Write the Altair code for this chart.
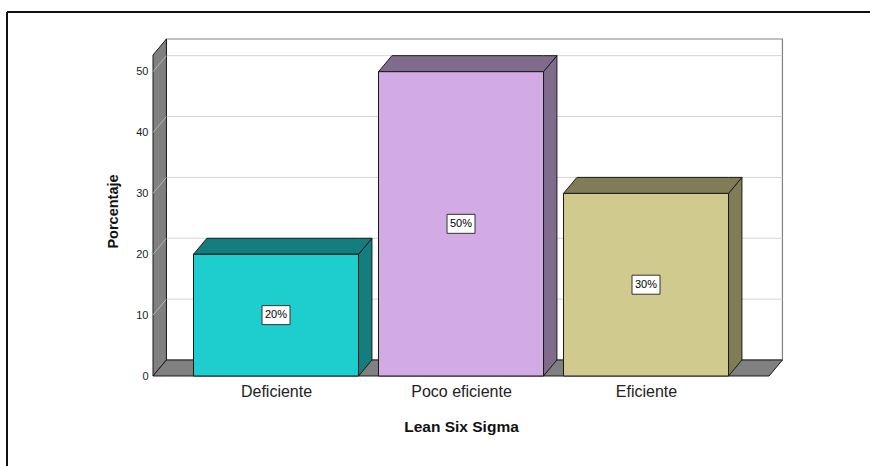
import json
import altair as alt
import pandas as pd

# ---- data ----
categories = ["Deficiente", "Poco eficiente", "Eficiente"]
values = [20, 50, 30]
labels = ["20%", "50%", "30%"]
front_colors = ["#1ECECE", "#D2AAE4", "#D0CA8F"]
side_colors = ["#147E7E", "#806B8D", "#807C56"]
y_ticks = [0, 10, 20, 30, 40, 50]

# ---- geometry (style constants, data units) ----
HALF = 0.446      # half bar width (category units)
DX = 0.0725       # depth offset x (category units)
DY = 2.63         # depth offset y (value units)
X_MIN, X_MAX = -0.665, 2.7405
X_FRONT_R = 2.665
Y_MAX = 55.37
Y_FRONT_TOP = Y_MAX - DY
WALL = "#808080"
EDGE = "#1a1a1a"

xs = alt.Scale(domain=[X_MIN, X_MAX], nice=False, zero=False)
ys = alt.Scale(domain=[0, Y_MAX], nice=False, zero=False)

cat_json = json.dumps(categories)
x_axis = alt.Axis(values=[0, 1, 2], labelExpr=f"{cat_json}[datum.value]",
                  title="Lean Six Sigma", domain=False, ticks=False, grid=False,
                  labelFontSize=16, labelColor="#222", labelFont="Liberation Sans",
                  labelPadding=7, labelFlush=False,
                  titleFontSize=15.5, titleFontWeight="bold", titleColor="#111",
                  titleFont="Liberation Sans", titleBaseline="alphabetic",
                  titleAlign="center", titleX=308, titleY=55)
y_axis = alt.Axis(values=y_ticks, title="Porcentaje", domain=False, ticks=False,
                  grid=False, labelFontSize=11, labelColor="#222",
                  labelFont="Liberation Sans", labelPadding=5,
                  titleFontSize=14.5, titleFontWeight="bold", titleColor="#111",
                  titleFont="Liberation Sans", titleX=-33, titleY=172,
                  titleBaseline="bottom")

def X(f):
    return alt.X(f, scale=xs, axis=x_axis)

def Y(f, **kw):
    return alt.Y(f, scale=ys, axis=y_axis, **kw)

# back wall
back = pd.DataFrame({"x": [X_MIN + DX], "x2": [X_FRONT_R + DX], "y": [DY], "y2": [Y_MAX]})
back_layer = alt.Chart(back).mark_rect(fill="white", stroke=WALL, strokeWidth=1.2).encode(
    x=X("x:Q"), x2="x2:Q", y=Y("y:Q"), y2="y2:Q")

# gridlines on back wall
grid = pd.DataFrame({"x": [X_MIN + DX] * 5, "x2": [X_FRONT_R + DX] * 5,
                     "y": [v + DY for v in y_ticks[1:]]})
grid_layer = alt.Chart(grid).mark_rule(color="#d4d4d4", strokeWidth=1).encode(
    x=X("x:Q"), x2="x2:Q", y=Y("y:Q"))

# polygons: left wall, floor, bar side/top faces
poly_layers = []
def poly(fill, pts):
    df = pd.DataFrame(pts, columns=["x", "y", "y2"])
    poly_layers.append(
        alt.Chart(df).mark_area(orient="vertical", fill=fill, stroke=EDGE,
                                strokeWidth=1, opacity=1, interpolate="linear").encode(
            x=X("x:Q"), y=Y("y:Q", stack=None), y2="y2:Q"))

poly(WALL, [(X_MIN, 0, Y_FRONT_TOP), (X_MIN + DX, DY, Y_MAX)])
poly(WALL, [(X_MIN, 0, 0), (X_MIN + DX, 0, DY),
            (X_FRONT_R, 0, DY), (X_FRONT_R + DX, DY, DY)])

# diagonal gridlines on left wall
wg = pd.DataFrame({"x": [X_MIN] * 5, "x2": [X_MIN + DX] * 5,
                   "y": y_ticks[1:], "y2": [v + DY for v in y_ticks[1:]]})
wall_grid = alt.Chart(wg).mark_rule(color="#b4b4b4", strokeWidth=1).encode(
    x=X("x:Q"), x2="x2:Q", y=Y("y:Q"), y2="y2:Q")

for i, (v, sc) in enumerate(zip(values, side_colors)):
    L, R = i - HALF, i + HALF
    poly(sc, [(R, 0, v), (R + DX, DY, v + DY)])
    poly(sc, [(L, v, v), (L + DX, v, v + DY), (R, v, v + DY), (R + DX, v + DY, v + DY)])

# front faces
front = pd.DataFrame({"cat": categories, "idx": range(3), "v": values, "fill": front_colors,
                      "label": labels})
front["x"] = front["idx"] - HALF
front["x2"] = front["idx"] + HALF
front["y0"] = 0
front["mid"] = front["v"] / 2
front_layer = alt.Chart(front).mark_rect(stroke=EDGE, strokeWidth=1).encode(
    x=X("x:Q"), x2="x2:Q", y=Y("y0:Q"), y2="v:Q",
    color=alt.Color("fill:N", scale=None))

box_layer = alt.Chart(front).mark_point(
    shape="M-1.4,-0.95L1.4,-0.95L1.4,0.95L-1.4,0.95Z", size=400, filled=True,
    fill="white", stroke="#333", strokeWidth=1, opacity=1).encode(
    x=X("idx:Q"), y=Y("mid:Q"))

text_layer = alt.Chart(front).mark_text(fontSize=11, font="Liberation Sans", color="#000").encode(
    x=X("idx:Q"), y=Y("mid:Q"), text="label:N")

# outer frame
frame_top = alt.Chart(pd.DataFrame({"a": [0]})).mark_rule(color="#111", strokeWidth=2).encode(
    x=alt.value(7 - 153), x2=alt.value(900), y=alt.value(12 - 39))
frame_left = alt.Chart(pd.DataFrame({"a": [0]})).mark_rule(color="#111", strokeWidth=2).encode(
    x=alt.value(7 - 153), y=alt.value(12 - 39), y2=alt.value(500))

chart = alt.layer(
    back_layer, grid_layer, *poly_layers[:2], wall_grid, *poly_layers[2:],
    front_layer, box_layer, text_layer, frame_top, frame_left
).properties(
    width=630, height=337,
    padding={"left": 153, "top": 39, "right": 87, "bottom": 90},
    autosize=alt.AutoSizeParams(type="none"),
    background="white"
).configure_view(stroke=None, clip=False)

chart.save("out.html", embed_options={"renderer": "svg", "actions": False})
